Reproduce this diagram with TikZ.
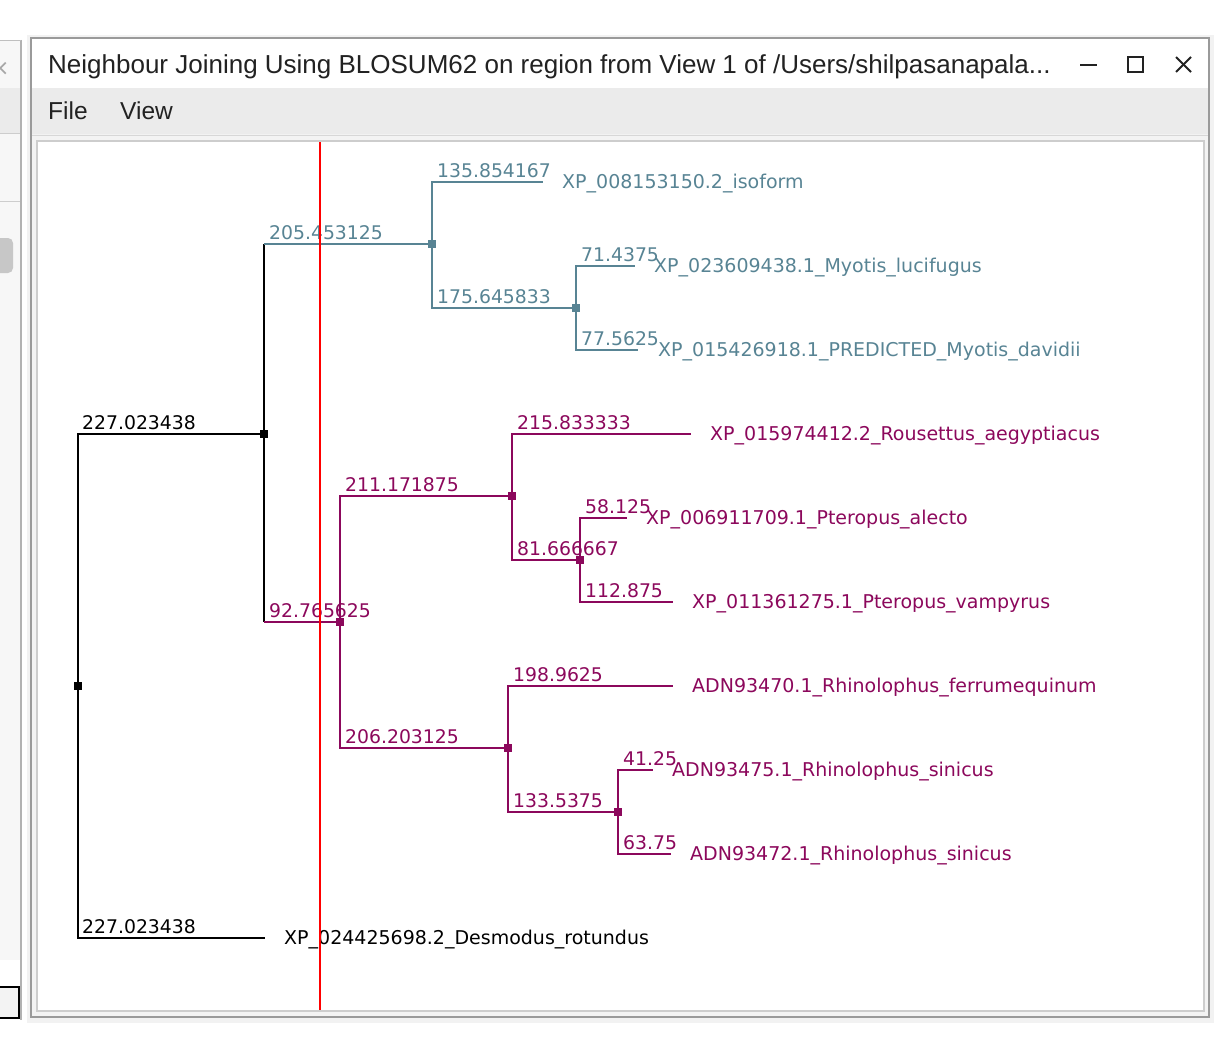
\documentclass[tikz,border=0pt]{standalone}
\usepackage{fontspec}
\newfontfamily\treefont{DejaVu Sans}
\newfontfamily\uifont{Liberation Sans}
\definecolor{tealc}{RGB}{88,132,148}
\definecolor{magc}{RGB}{140,8,92}
\definecolor{winborder}{RGB}{154,154,154}
\definecolor{menubg}{RGB}{235,235,235}
\definecolor{panelbg}{RGB}{243,243,243}
\definecolor{panelborder}{RGB}{205,205,205}
\definecolor{uitext}{RGB}{34,34,34}
\begin{document}
\begin{tikzpicture}[x=1pt,y=-1pt,
  br/.style={line width=1.6pt, line join=miter},
  knot/.style={rectangle, fill, minimum size=8pt, inner sep=0pt},
  blab/.style={anchor=base west, inner sep=0pt, font=\treefont\fontsize{18.8}{20}\selectfont},
  leaf/.style={anchor=base west, inner sep=0pt, font=\treefont\fontsize{19}{20}\selectfont},
  uilab/.style={anchor=base west, inner sep=0pt, text=uitext, font=\uifont\fontsize{24.5}{26}\selectfont},
  ctrl/.style={line width=2pt, uitext},
]
\useasboundingbox (0,0) rectangle (1222,1038);
\fill[white] (0,0) rectangle (1222,1038);
% ---- background window at the left ----
\fill[panelbg!70!white] (0,40) rectangle (21,960);
\fill[menubg] (0,88) rectangle (21,133);
\draw[panelborder, line width=1pt] (0,133.5) -- (21,133.5);
\draw[panelborder, line width=1pt] (0,201) -- (21,201);
\fill[white] (0,960) rectangle (21,986);
\fill[black!22, rounded corners=5pt] (-6,238) rectangle (13,273);
\draw[black!30, line width=2pt] (21,40) -- (21,1020);
\draw[black!25, line width=1pt] (0,41) -- (21,41);
\node[anchor=base west, inner sep=0pt, text=black!35, font=\treefont\fontsize{22}{24}\selectfont] (bgx) at (-9,76) {×};
\draw[black, line width=2pt, fill=panelbg] (-4,987) rectangle (19,1018);
% ---- main window ----
\fill[black!5] (27,35) rectangle (1214,1023);
\fill[white] (31,38) rectangle (1209,88);
\fill[menubg] (31,88) rectangle (1209,134);
\draw[panelborder!80!white, line width=1pt] (31,135) -- (1209,135);
\fill[panelbg] (31,136) rectangle (1209,1017);
\draw[panelborder, line width=2pt, fill=white] (37,141) rectangle (1204,1011);
\draw[winborder, line width=2.5pt] (31,38) rectangle (1209,1017);
\node[uilab, font=\uifont\fontsize{26}{28}\selectfont] (title) at (48,74) {Neighbour Joining Using BLOSUM62 on region from View 1 of /Users/shilpasanapala...};
\node[uilab] (file) at (48,120) {File};
\node[uilab] (view) at (120,120) {View};
\draw[ctrl] (1080,65) -- (1097,65);
\draw[ctrl] (1128,57) rectangle (1143,72);
\draw[ctrl] (1176,57) -- (1191,72);
\draw[ctrl] (1176,72) -- (1191,57);
% ---- tree nodes ----
\node[knot,black] (r) at (78,686) {};
\node[knot,black] (a) at (264,434) {};
\node[knot,tealc] (t) at (432,244) {};
\node[knot,tealc] (t2) at (576,308) {};
\node[knot,magc] (m) at (340,622) {};
\node[knot,magc] (m1) at (512,496) {};
\node[knot,magc] (m11) at (580,560) {};
\node[knot,magc] (m2) at (508,748) {};
\node[knot,magc] (m22) at (618,812) {};
\coordinate (e0) at (265,938);
\coordinate (e1) at (543,182);
\coordinate (e2) at (635,266);
\coordinate (e3) at (638,350);
\coordinate (e4) at (691,434);
\coordinate (e5) at (627,518);
\coordinate (e6) at (673,602);
\coordinate (e7) at (673,686);
\coordinate (e8) at (653,770);
\coordinate (e9) at (671,854);
% ---- connectors ----
\draw[br] (r.center) |- (a.center);
\draw[br] (r.center) |- (e0);
\draw[br] (a.center) -- (a.center |- t.center);
\draw[br,tealc] (a.center |- t.center) -- (t.center);
\draw[br] (a.center) -- (a.center |- m.center);
\draw[br,magc] (a.center |- m.center) -- (m.center);
\draw[br,tealc] (t.center) |- (e1);
\draw[br,tealc] (t.center) |- (t2.center);
\draw[br,tealc] (t2.center) |- (e2);
\draw[br,tealc] (t2.center) |- (e3);
\draw[br,magc] (m.center) |- (m1.center);
\draw[br,magc] (m.center) |- (m2.center);
\draw[br,magc] (m1.center) |- (e4);
\draw[br,magc] (m1.center) |- (m11.center);
\draw[br,magc] (m11.center) |- (e5);
\draw[br,magc] (m11.center) |- (e6);
\draw[br,magc] (m2.center) |- (e7);
\draw[br,magc] (m2.center) |- (m22.center);
\draw[br,magc] (m22.center) |- (e8);
\draw[br,magc] (m22.center) |- (e9);
% ---- branch lengths ----
\node[blab] (b1) at (82,429) {227.023438};
\node[blab] (b2) at (82,933) {227.023438};
\node[blab,text=tealc] (b3) at (269,239) {205.453125};
\node[blab,text=magc] (b4) at (269,617) {92.765625};
\node[blab,text=tealc] (b5) at (437,177) {135.854167};
\node[blab,text=tealc] (b6) at (437,303) {175.645833};
\node[blab,text=tealc] (b7) at (581,261) {71.4375};
\node[blab,text=tealc] (b8) at (581,345) {77.5625};
\node[blab,text=magc] (b9) at (345,491) {211.171875};
\node[blab,text=magc] (b10) at (345,743) {206.203125};
\node[blab,text=magc] (b11) at (517,429) {215.833333};
\node[blab,text=magc] (b12) at (517,555) {81.666667};
\node[blab,text=magc] (b13) at (585,513) {58.125};
\node[blab,text=magc] (b14) at (585,597) {112.875};
\node[blab,text=magc] (b15) at (513,681) {198.9625};
\node[blab,text=magc] (b16) at (513,807) {133.5375};
\node[blab,text=magc] (b17) at (623,765) {41.25};
\node[blab,text=magc] (b18) at (623,849) {63.75};
% ---- leaves ----
\node[leaf] (l0) at (284,944) {XP\_024425698.2\_Desmodus\_rotundus};
\node[leaf,text=tealc] (l1) at (562,188) {XP\_008153150.2\_isoform};
\node[leaf,text=tealc] (l2) at (654,272) {XP\_023609438.1\_Myotis\_lucifugus};
\node[leaf,text=tealc] (l3) at (658,356) {XP\_015426918.1\_PREDICTED\_Myotis\_davidii};
\node[leaf,text=magc] (l4) at (710,440) {XP\_015974412.2\_Rousettus\_aegyptiacus};
\node[leaf,text=magc] (l5) at (646,524) {XP\_006911709.1\_Pteropus\_alecto};
\node[leaf,text=magc] (l6) at (692,608) {XP\_011361275.1\_Pteropus\_vampyrus};
\node[leaf,text=magc] (l7) at (692,692) {ADN93470.1\_Rhinolophus\_ferrumequinum};
\node[leaf,text=magc] (l8) at (672,776) {ADN93475.1\_Rhinolophus\_sinicus};
\node[leaf,text=magc] (l9) at (690,860) {ADN93472.1\_Rhinolophus\_sinicus};
% ---- red marker line ----
\coordinate (rtop) at (320,142);
\coordinate (rbot) at (320,1010);
\draw[red, line width=1.6pt] (rtop) -- (rbot);
\end{tikzpicture}
\end{document}
